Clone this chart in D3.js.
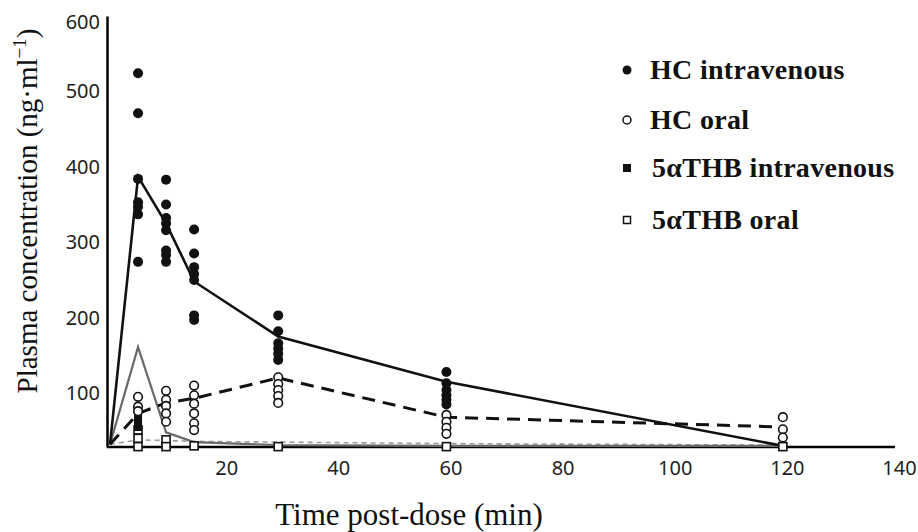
<!DOCTYPE html>
<html>
<head>
<meta charset="utf-8">
<script src="https://cdn.jsdelivr.net/npm/d3@7"></script>
<style>
  body { margin: 0; background: #fff; }
  svg { display: block; }
  .tick text { font-family: "Noto Sans", sans-serif; font-size: 20px; fill: #222; }
  .title { font-family: "Liberation Serif", "Times New Roman", serif; fill: #111; }
  .legend text { font-family: "Liberation Serif", "Times New Roman", serif; font-weight: bold; font-size: 28px; letter-spacing: 0.3px; fill: #111; }
</style>
</head>
<body>
<svg id="chart"></svg>
<script>
// sampling times (min)
const times = [5, 10, 15, 30, 60, 120];
const meanTimes = [0, 5, 10, 15, 30, 60, 120];

// individual values per sampling time (ng/ml)
const hcIvValues = [
  [524, 471, 384, 353, 347, 337, 274],
  [383, 350, 332, 325, 316, 289, 283, 274],
  [317, 285, 267, 258, 250, 203, 197],
  [203, 182, 166, 159, 152, 144],
  [128, 113, 104, 97, 91, 85],
  []
];
const hcOralValues = [
  [95, 82, 76],
  [103, 91, 83, 73, 62],
  [110, 97, 86, 73, 60, 51],
  [121, 112, 104, 96, 87],
  [71, 62, 54, 46],
  [68, 52, 41]
];
const thbIvValues = [
  [75, 68, 62, 55],
  [], [], [], [], []
];
const thbOralValues = [
  [51, 40, 29],
  [38, 29],
  [30],
  [29],
  [29],
  [29]
];

// mean curves
const hcIvMean = [32, 387, 325, 248, 175, 115, 30];
const hcOralMean = [32, 73, 87, 93, 120, 68, 55];
const thbIvMean = [32, 161, 48, 35, 31, 30, 30];
const thbOralMean = [32, 38, 37, 36, 35, 33, 31];

const xTicks = [20, 40, 60, 80, 100, 120, 140];
const yTicks = [100, 200, 300, 400, 500, 600];
const legendLabels = ["HC intravenous", "HC oral", "5\u03B1THB intravenous", "5\u03B1THB oral"];

const width = 918;
const height = 532;

const svg = d3.select('#chart').attr('width', width).attr('height', height);

const x = d3.scaleLinear().domain([0, 140]).range([110, 895]);
const y = d3.scaleLinear().domain([28.5, 600]).range([447, 16]);

// axes
const xAxis = svg.append('g')
  .attr('transform', `translate(0,${y(28.5)})`)
  .call(d3.axisBottom(x).tickValues(xTicks).tickSize(0).tickPadding(14));
xAxis.select('.domain').attr('stroke', '#000').attr('stroke-width', 2.5).attr('d', `M${x(0) - 3},0H${x(140)}`);
xAxis.selectAll('.tick text').attr('dx', 4);

const yAxis = svg.append('g')
  .attr('transform', `translate(${x(0) - 3},0)`)
  .call(d3.axisLeft(y).tickValues(yTicks).tickSize(0).tickPadding(7));
yAxis.select('.domain').attr('stroke', '#000').attr('stroke-width', 2.5);
yAxis.selectAll('.tick text').filter(d => d === 600).attr('dy', '0.6em');

// titles
svg.append('text').attr('class', 'title')
  .attr('x', 409).attr('y', 525)
  .attr('text-anchor', 'middle')
  .attr('font-size', 31)
  .text('Time post-dose (min)');

const yTitle = svg.append('text').attr('class', 'title')
  .attr('transform', 'translate(37,211) rotate(-90)')
  .attr('text-anchor', 'middle')
  .attr('font-size', 29);
yTitle.append('tspan').text('Plasma concentration (ng\u00B7ml');
yTitle.append('tspan').attr('font-size', 19).attr('dy', -11).text('\u22121');
yTitle.append('tspan').attr('dy', 11).text(')');

// mean lines
const line = d3.line().x((d, i) => x(meanTimes[i])).y(d => y(d));

svg.append('path').datum(thbOralMean).attr('d', line)
  .attr('fill', 'none').attr('stroke', '#9a9a9a').attr('stroke-width', 1.6).attr('stroke-dasharray', '5,4');
svg.append('path').datum(thbIvMean).attr('d', line)
  .attr('fill', 'none').attr('stroke', '#6a6a6a').attr('stroke-width', 2.2);
svg.append('path').datum(hcOralMean).attr('d', line)
  .attr('fill', 'none').attr('stroke', '#111').attr('stroke-width', 3).attr('stroke-dasharray', '13,8');
svg.append('path').datum(hcIvMean).attr('d', line)
  .attr('fill', 'none').attr('stroke', '#111').attr('stroke-width', 2.6);

// flatten per-time values into points
const toPoints = vals => vals.flatMap((arr, i) => arr.map(v => ({ t: times[i], v: v })));

const sq = 8;
svg.append('g').selectAll('rect').data(toPoints(thbOralValues))
  .enter().append('rect')
    .attr('x', d => x(d.t) - sq / 2)
    .attr('y', d => y(d.v) - sq / 2)
    .attr('width', sq).attr('height', sq)
    .attr('fill', '#fff').attr('stroke', '#111').attr('stroke-width', 1.6);

svg.append('g').selectAll('rect').data(toPoints(thbIvValues))
  .enter().append('rect')
    .attr('x', d => x(d.t) - sq / 2)
    .attr('y', d => y(d.v) - sq / 2)
    .attr('width', sq).attr('height', sq)
    .attr('fill', '#111');

svg.append('g').selectAll('circle').data(toPoints(hcOralValues))
  .enter().append('circle')
    .attr('cx', d => x(d.t))
    .attr('cy', d => y(d.v))
    .attr('r', 4.3)
    .attr('fill', '#fff').attr('stroke', '#111').attr('stroke-width', 1.6);

svg.append('g').selectAll('circle').data(toPoints(hcIvValues))
  .enter().append('circle')
    .attr('cx', d => x(d.t))
    .attr('cy', d => y(d.v))
    .attr('r', 5)
    .attr('fill', '#111');

// legend
const legend = svg.append('g').attr('class', 'legend');
const legendY = [70, 120, 168, 220];
legendLabels.forEach((label, i) => {
  const g = legend.append('g').attr('transform', `translate(627,${legendY[i]})`);
  if (i === 0) g.append('circle').attr('r', 4.5).attr('fill', '#111');
  if (i === 1) g.append('circle').attr('r', 4).attr('fill', '#fff').attr('stroke', '#111').attr('stroke-width', 1.5);
  if (i === 2) g.append('rect').attr('x', -4).attr('y', -4).attr('width', 8).attr('height', 8).attr('fill', '#111');
  if (i === 3) g.append('rect').attr('x', -3.5).attr('y', -3.5).attr('width', 7).attr('height', 7).attr('fill', '#fff').attr('stroke', '#111').attr('stroke-width', 1.5);
  g.append('text').attr('x', i < 2 ? 23 : 25).attr('y', 0).attr('dy', '0.33em').text(label);
});
</script>
</body>
</html>
